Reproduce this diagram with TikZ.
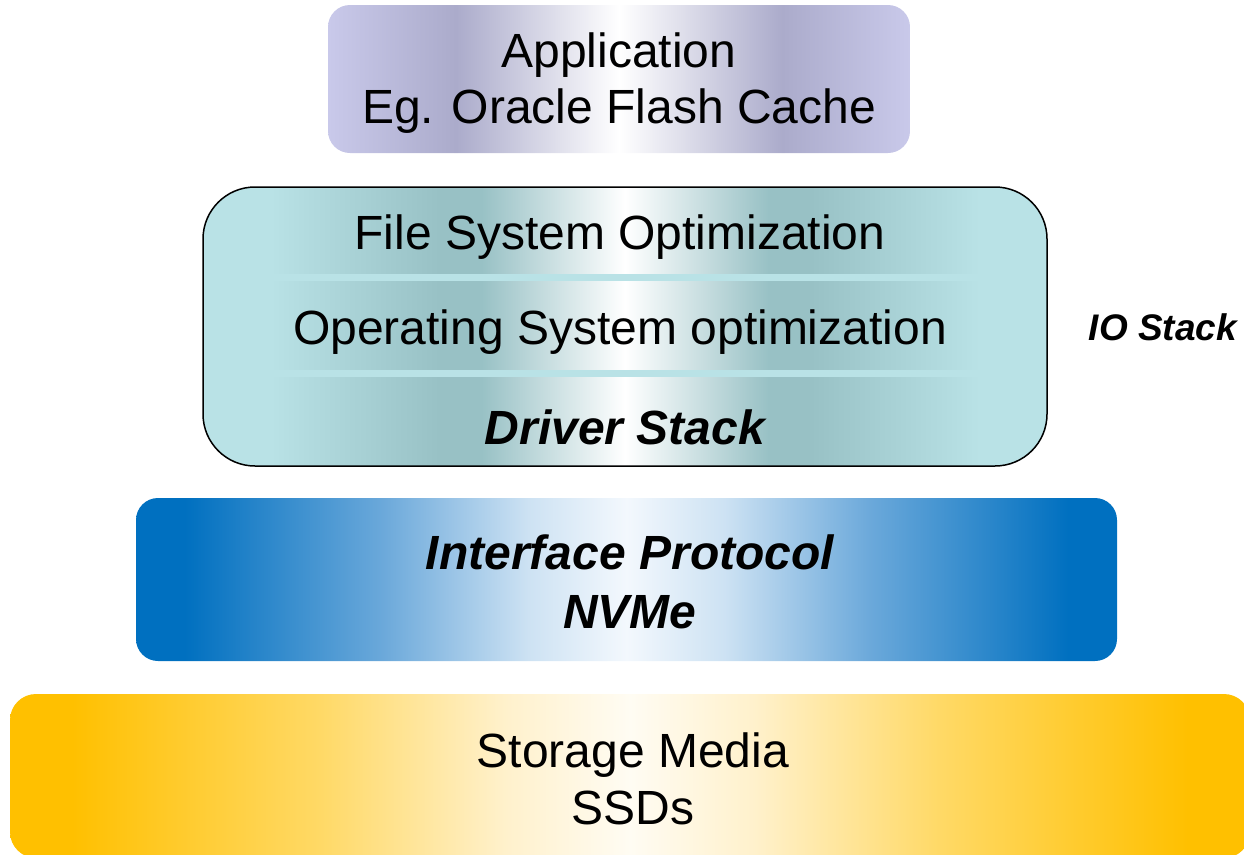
\documentclass[tikz,border=0pt]{standalone}
\usepackage{fontspec}
\setmainfont{Liberation Sans}
\usetikzlibrary{positioning}

% colours of the layers
\definecolor{appedge}{HTML}{C9C9EA}
\definecolor{appdark}{HTML}{ABABCB}
\definecolor{ioedge}{HTML}{B9E2E6}
\definecolor{iodark}{HTML}{98C1C5}
\definecolor{ifedge}{HTML}{0070C0}
\definecolor{ifmid}{HTML}{6AA8DA}
\definecolor{iflight}{HTML}{CDE2F3}
\definecolor{ifcentre}{HTML}{F3F8FD}
\definecolor{stedge}{HTML}{FFC000}
\definecolor{stmid}{HTML}{FFD966}
\definecolor{stlight}{HTML}{FFF1CC}
\definecolor{stcentre}{HTML}{FFFCF3}

% left-to-right shadings of the layers (the path spans 25bp..75bp)
\pgfdeclarehorizontalshading{appshade}{100bp}{
  color(0bp)=(appedge); color(25bp)=(appedge); color(36bp)=(appdark);
  color(50bp)=(white); color(64bp)=(appdark); color(75bp)=(appedge);
  color(100bp)=(appedge)}
\pgfdeclarehorizontalshading{ioshade}{100bp}{
  color(0bp)=(ioedge); color(29bp)=(ioedge); color(39bp)=(iodark);
  color(41.5bp)=(iodark); color(50bp)=(white); color(58.5bp)=(iodark);
  color(61bp)=(iodark); color(71bp)=(ioedge); color(100bp)=(ioedge)}
\pgfdeclarehorizontalshading{ifshade}{100bp}{
  color(0bp)=(ifedge); color(27.5bp)=(ifedge); color(37.5bp)=(ifmid);
  color(45bp)=(iflight); color(50bp)=(ifcentre); color(55bp)=(iflight);
  color(62.5bp)=(ifmid); color(72.5bp)=(ifedge); color(100bp)=(ifedge)}
\pgfdeclarehorizontalshading{stshade}{100bp}{
  color(0bp)=(stedge); color(27.5bp)=(stedge); color(37.5bp)=(stmid);
  color(45bp)=(stlight); color(50bp)=(stcentre); color(55bp)=(stlight);
  color(62.5bp)=(stmid); color(72.5bp)=(stedge); color(100bp)=(stedge)}

\tikzset{
  layer/.style={inner sep=0pt, align=center,
    font=\fontsize{48}{56}\selectfont},
  label48/.style={inner sep=0pt, font=\fontsize{48}{56}\selectfont},
  sidelabel/.style={inner sep=0pt, font=\fontsize{37}{42}\selectfont\bfseries\itshape},
  sepband/.style={fill=ioedge, draw=none},
}

\begin{document}
\begin{tikzpicture}[x=1pt,y=-1pt]
\useasboundingbox (0,0) rectangle (1244,854);

% application layer
\node[layer, shading=appshade, rounded corners=22pt,
  minimum width=582pt, minimum height=148pt] (app) at (619,79) {};
\node[layer] (apptext) at (619,83) {Application\\Eg. Oracle Flash Cache};

% IO stack
\node[shading=ioshade, rounded corners=52pt, draw=black, line width=1.5pt,
  minimum width=844pt, minimum height=279pt, inner sep=0pt] (io) at (625,326.5) {};
\fill[sepband] (256,274) rectangle (990,281);
\fill[sepband] (256,370) rectangle (990,377);
\node[label48] (fs) at (620,237) {File System Optimization};
\node[label48] (os) at (620,332) {Operating System optimization};
\node[label48, font=\fontsize{48}{56}\selectfont\bfseries\itshape] (drv) at (625,427) {Driver Stack};
\node[sidelabel] (iolabel) at (1163,327) {IO Stack};

% interface layer
\node[layer, shading=ifshade, rounded corners=22pt,
  minimum width=981pt, minimum height=163pt] (intf) at (626.5,579.5) {};
\node[layer, font=\fontsize{48}{59}\selectfont\bfseries\itshape] (intftext) at (630,582)
  {Interface Protocol\\NVMe};

% storage layer
\node[layer, shading=stshade, rounded corners=26pt,
  minimum width=1240pt, minimum height=164pt] (store) at (630,776) {};
\node[layer, font=\fontsize{48}{57}\selectfont] (storetext) at (633,779)
  {Storage Media\\SSDs};
\end{tikzpicture}
\end{document}
